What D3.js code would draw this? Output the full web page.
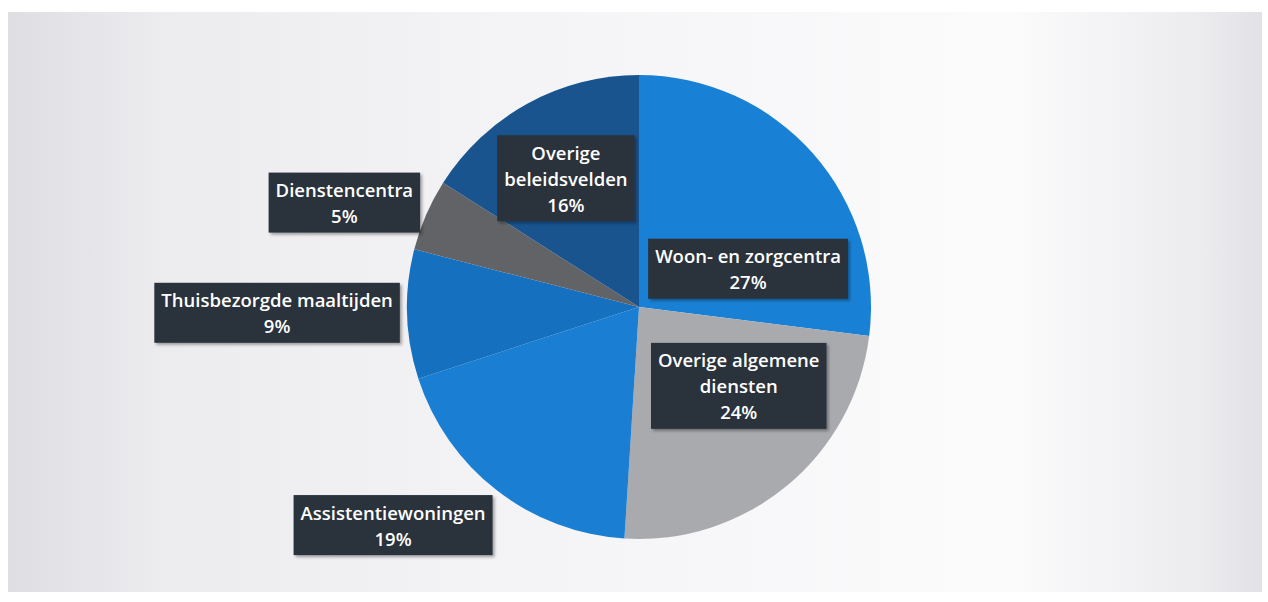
<!DOCTYPE html>
<html>
<head>
<meta charset="utf-8">
<script src="https://cdn.jsdelivr.net/npm/d3@7"></script>
<style>
  html, body { margin: 0; padding: 0; background: #ffffff; }
  svg { display: block; }
</style>
</head>
<body>
<svg id="chart" width="1268" height="602"></svg>
<script>
// ---- data ----
const categories = [
  "Woon- en zorgcentra",
  "Overige algemene diensten",
  "Assistentiewoningen",
  "Thuisbezorgde maaltijden",
  "Dienstencentra",
  "Overige beleidsvelden"
];
const values = [27, 24, 19, 9, 5, 16];
const labelLines = [
  ["Woon- en zorgcentra"],
  ["Overige algemene", "diensten"],
  ["Assistentiewoningen"],
  ["Thuisbezorgde maaltijden"],
  ["Dienstencentra"],
  ["Overige", "beleidsvelden"]
];
const colors = ["#1981d5", "#a9aaae", "#1a7ed2", "#1670c0", "#626366", "#19548f"];

// ---- layout ----
const W = 1268, H = 602;
const cx = 639, cy = 307, R = 232;
// label box centres, as fractions of the radius relative to pie centre
const labelOffsets = [
  [0.47, -0.165], [0.43, 0.34], [-1.06, 0.94],
  [-1.56, 0.025], [-1.27, -0.45], [-0.315, -0.555]
];

const svg = d3.select("#chart");
const defs = svg.append("defs");

const bg = defs.append("linearGradient").attr("id", "bg").attr("x1", "0").attr("x2", "1").attr("y1", "0").attr("y2", "0");
bg.append("stop").attr("offset", "0").attr("stop-color", "#dedee3");
bg.append("stop").attr("offset", "0.12").attr("stop-color", "#ececef");
bg.append("stop").attr("offset", "0.45").attr("stop-color", "#f5f5f7");
bg.append("stop").attr("offset", "0.8").attr("stop-color", "#fbfbfc");
bg.append("stop").attr("offset", "0.95").attr("stop-color", "#ececef");
bg.append("stop").attr("offset", "1").attr("stop-color", "#e2e2e6");

const sh = defs.append("filter").attr("id", "shadow").attr("x", "-10%").attr("y", "-20%").attr("width", "130%").attr("height", "150%");
sh.append("feDropShadow").attr("dx", 2).attr("dy", 2).attr("stdDeviation", 1.5).attr("flood-color", "#000").attr("flood-opacity", 0.35);

svg.append("rect").attr("width", W).attr("height", H).attr("fill", "#ffffff");
svg.append("rect").attr("x", 8).attr("y", 12).attr("width", 1254).attr("height", 580).attr("fill", "url(#bg)");

const pie = d3.pie().sort(null).value(d => d);
const arcs = pie(values);
const arc = d3.arc().innerRadius(0).outerRadius(R);

const g = svg.append("g").attr("transform", `translate(${cx},${cy})`);
g.selectAll("path.slice")
  .data(arcs)
  .join("path")
  .attr("class", "slice")
  .attr("d", arc)
  .attr("fill", (d, i) => colors[i])
  .attr("stroke", "none");

// labels
const fontSize = 18.5, lineH = 26, padX = 7, padY = 4;
const lg = g.append("g");
arcs.forEach((d, i) => {
  const lines = labelLines[i].concat([d3.format(".0%")(values[i] / 100)]);
  const [fx, fy] = labelOffsets[i];
  const lx = fx * R, ly = fy * R;
  const grp = lg.append("g").attr("transform", `translate(${lx},${ly})`);
  const box = grp.append("rect").attr("fill", "#2b303b").attr("filter", "url(#shadow)");
  const n = lines.length;
  const texts = grp.selectAll("text").data(lines).join("text")
    .attr("x", 0)
    .attr("y", (t, k) => (k - (n - 1) / 2) * lineH)
    .attr("text-anchor", "middle")
    .attr("dominant-baseline", "central")
    .attr("font-family", "'Open Sans', 'DejaVu Sans', sans-serif")
    .attr("font-weight", 600)
    .attr("font-size", fontSize)
    .attr("fill", "#ffffff")
    .text(t => t);
  let maxW = 0;
  texts.each(function () { maxW = Math.max(maxW, this.getComputedTextLength()); });
  const bw = maxW + 2 * padX, bh = n * lineH + 2 * padY;
  box.attr("x", -bw / 2).attr("y", -bh / 2).attr("width", bw).attr("height", bh);
});
</script>
</body>
</html>
